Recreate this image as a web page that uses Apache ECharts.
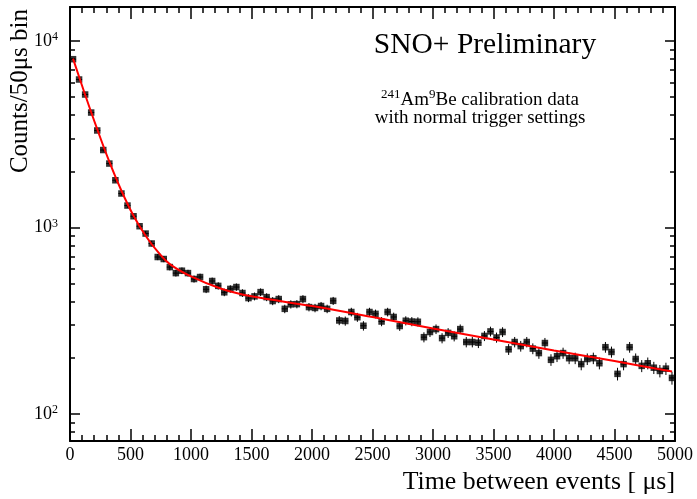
<!DOCTYPE html>
<html>
<head>
<meta charset="utf-8">
<script src="https://cdn.jsdelivr.net/npm/echarts@6/dist/echarts.min.js"></script>
<style>
html,body{margin:0;padding:0;background:#fff;}
#chart{width:697px;height:499px;}
</style>
</head>
<body>
<div id="chart"></div>
<script>
// ---- data ----
const binCenters = [25,75,125,175,225,275,325,375,425,475,525,575,625,675,725,775,825,875,925,975,
1025,1075,1125,1175,1225,1275,1325,1375,1425,1475,1525,1575,1625,1675,1725,1775,1825,1875,1925,1975,
2025,2075,2125,2175,2225,2275,2325,2375,2425,2475,2525,2575,2625,2675,2725,2775,2825,2875,2925,2975,
3025,3075,3125,3175,3225,3275,3325,3375,3425,3475,3525,3575,3625,3675,3725,3775,3825,3875,3925,3975,
4025,4075,4125,4175,4225,4275,4325,4375,4425,4475,4525,4575,4625,4675,4725,4775,4825,4875,4925,4975];
const counts = [7980,6210,5160,4130,3310,2600,2200,1790,1520,1310,1148,1015,927,820,
694,677,613,569,586,569,529,542,466,516,486,449,468,479,445,418,
427,450,423,403,413,366,387,388,413,374,370,379,366,404,317,315,352,330,297,352,344,313,352,331,296,316,313,312,
258,275,285,255,272,261,285,243,243,241,262,277,257,275,222,243,231,243,224,212,240,195,204,212,199,199,
185,197,199,187,228,215,164,185,228,197,181,187,177,170,175,156];
const fitX = [25,125,225,325,425,525,625,725,825,1000,1250,1500,2000,2500,3000,3500,4000,4500,4975];
const fitY = [8030,5146,3362,2251,1573,1155,903,741,636,546,469,427,379,331,287,251,219,192,169];
const binHalfWidth = 25;
const yMajor = [100,1000,10000];
const yMinor = [80,90,200,300,400,500,600,700,800,900,2000,3000,4000,5000,6000,7000,8000,9000];
const yRange = [71.6, 15200];

const FONT = 'Liberation Serif';
const chart = echarts.init(document.getElementById('chart'), null, {renderer:'canvas'});

const points = binCenters.map((x,i)=>[x,counts[i]]);
const fitPts = fitX.map((x,i)=>[x,fitY[i]]);

function yMajorAxis(pos, showLabel){
  return {
    type:'log', position:pos, min:yRange[0], max:yRange[1], logBase:10, offset:0,
    axisLine:{show:true, lineStyle:{color:'#000', width:2}},
    axisTick:{show:true, inside:true, length:10, lineStyle:{color:'#000', width:1.5}},
    axisLabel:{show:showLabel, showMinLabel:false, showMaxLabel:false, color:'#000', fontFamily:FONT, fontSize:18, margin:12,
      formatter:(v)=>{
        const m = yMajor.find(t=>Math.abs(t-v)/t < 1e-6);
        return m ? '{b|10}{s|'+Math.round(Math.log10(m))+'}' : '';
      },
      rich:{b:{fontFamily:FONT, fontSize:18, color:'#000', lineHeight:20, verticalAlign:'middle'},
            s:{fontFamily:FONT, fontSize:12, color:'#000', lineHeight:12, verticalAlign:'top'}}},
    splitLine:{show:false}, minorTick:{show:false}, minorSplitLine:{show:false}
  };
}
// minor ticks of the log axis, drawn on an overlaid linear axis spanning the same decades
function yMinorAxis(pos){
  return {
    type:'value', position:pos, min:Math.log10(yRange[0]), max:Math.log10(yRange[1]), offset:0,
    axisLine:{show:false},
    axisTick:{show:true, inside:true, length:5, lineStyle:{color:'#000', width:1.5},
      customValues: yMinor.map(v=>Math.log10(v))},
    axisLabel:{show:false},
    splitLine:{show:false}
  };
}
function xAxisBase(pos, showLabel){
  return {
    type:'value', position:pos, min:0, max:5000, interval:500,
    axisLine:{show:true, onZero:false, lineStyle:{color:'#000', width:2}},
    axisTick:{show:true, inside:true, length:12, lineStyle:{color:'#000', width:1.5}},
    minorTick:{show:true, splitNumber:5, length:6, lineStyle:{color:'#000', width:1.5}},
    axisLabel:{show:showLabel, color:'#000', fontFamily:FONT, fontSize:18, margin:5,
      formatter:(v)=>String(v)},
    splitLine:{show:false}
  };
}

const option = {
  animation:false,
  backgroundColor:'#fff',
  grid:{left:70, right:22, top:7, bottom:58, containLabel:false},
  xAxis:[xAxisBase('bottom', true), xAxisBase('top', false)],
  yAxis:[yMajorAxis('left', true), yMinorAxis('left'), yMajorAxis('right', false), yMinorAxis('right')],
  series:[
    {type:'custom', xAxisIndex:0, yAxisIndex:0, data:points, z:2,
     renderItem:(params, api)=>{
       const x = api.value(0), y = api.value(1), e = Math.sqrt(y);
       const top = api.coord([x, y+e]), bot = api.coord([x, y-e]);
       const l = api.coord([x-binHalfWidth, y]), r = api.coord([x+binHalfWidth, y]);
       return {type:'group', children:[
         {type:'line', shape:{x1:top[0], y1:top[1], x2:bot[0], y2:bot[1]}, style:{stroke:'#000', lineWidth:1}},
         {type:'line', shape:{x1:l[0], y1:l[1], x2:r[0], y2:r[1]}, style:{stroke:'#000', lineWidth:1}}
       ]};
     }},
    {type:'scatter', xAxisIndex:0, yAxisIndex:0, data:points, symbol:'rect', symbolSize:6.5,
     itemStyle:{color:'#000'}, z:3},
    {type:'line', xAxisIndex:0, yAxisIndex:0, data:fitPts, smooth:0.4, showSymbol:false,
     lineStyle:{color:'#ff0000', width:2}, z:4}
  ],
  graphic:[
    {type:'text', x:20, y:9, rotation:Math.PI/2,
     style:{text:'Counts/50μs bin', fontFamily:FONT, fontSize:25, fill:'#000', align:'right', verticalAlign:'middle'}},
    {type:'text', x:675, y:482,
     style:{text:'Time between events [ μs]', fontFamily:FONT, fontSize:25.8, fill:'#000', align:'right', verticalAlign:'middle'}},
    {type:'text', x:485, y:45,
     style:{text:'SNO+ Preliminary', fontFamily:FONT, fontSize:29.5, fill:'#000', align:'center', verticalAlign:'middle'}},
    {type:'text', x:480, y:99,
     style:{text:'{s|241}{n|Am}{s|9}{n|Be calibration data}', fontFamily:FONT, fontSize:19, fill:'#000', align:'center', verticalAlign:'middle',
       rich:{s:{fontFamily:FONT, fontSize:13, fill:'#000', lineHeight:13, verticalAlign:'top'},
             n:{fontFamily:FONT, fontSize:19, fill:'#000', lineHeight:21, verticalAlign:'bottom'}}}},
    {type:'text', x:480, y:118,
     style:{text:'with normal trigger settings', fontFamily:FONT, fontSize:19, fill:'#000', align:'center', verticalAlign:'middle'}}
  ]
};
chart.setOption(option);
</script>
</body>
</html>
